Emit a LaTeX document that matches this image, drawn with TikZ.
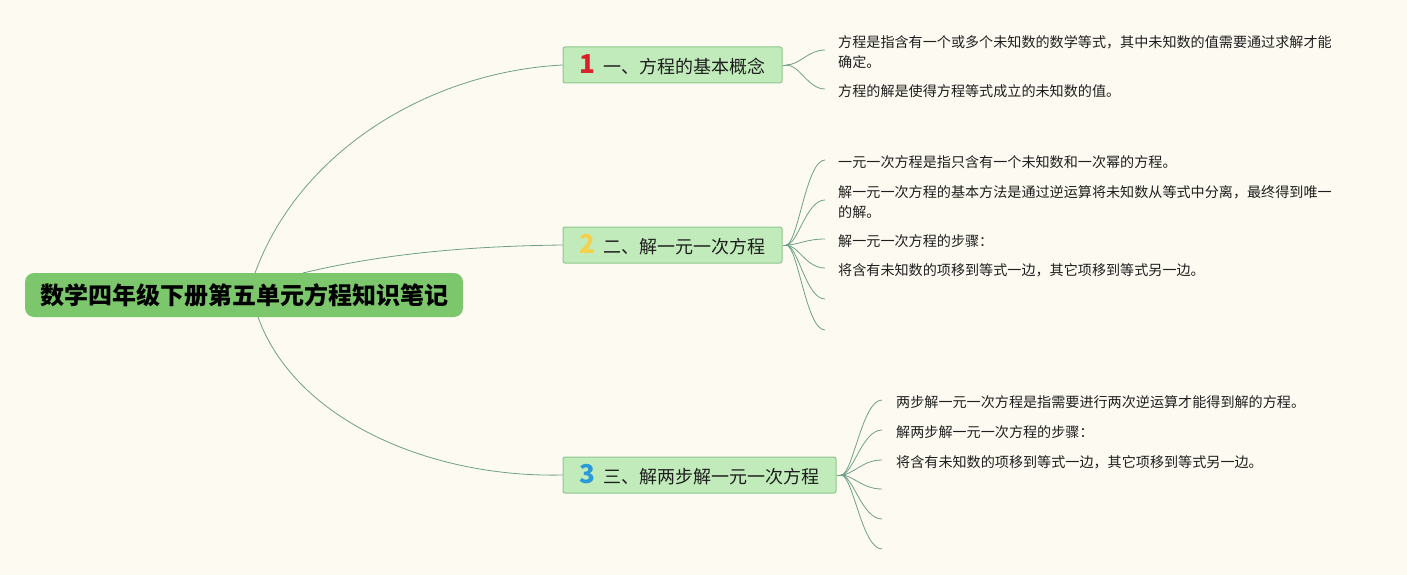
\documentclass[tikz,border=0pt]{standalone}
\usepackage{fontspec}
\setmainfont{Noto Sans CJK SC}
\definecolor{bg}{HTML}{FDFBF1}
\definecolor{rootfill}{HTML}{7CC76C}
\definecolor{brfill}{HTML}{C2EBBB}
\definecolor{brdraw}{HTML}{8CC78C}
\definecolor{linec}{HTML}{6E9F8A}
\definecolor{txt}{HTML}{1E1E1E}
\definecolor{nred}{HTML}{D8232D}
\definecolor{nyel}{HTML}{F4D14C}
\definecolor{nblu}{HTML}{2A9AD8}
\tikzset{
  rootbox/.style={fill=rootfill, rounded corners=9pt, minimum width=438pt, minimum height=44pt, inner sep=0pt,
    font=\fontsize{24}{28}\selectfont\bfseries, text=black},
  brbox/.style={fill=brfill, draw=brdraw, line width=1pt, rounded corners=2pt, minimum height=36pt, inner sep=0pt,
    font=\fontsize{18}{22}\selectfont, text=txt},
  leaf/.style={anchor=west, inner sep=0pt, align=left, font=\fontsize{14.1}{20}\selectfont, text=txt},
  conn/.style={draw=linec, line width=0.8pt},
  sconn/.style={draw=linec, line width=0.8pt}
}
\begin{document}
\begin{tikzpicture}[x=1pt,y=-1pt]
\fill[bg] (0,0) rectangle (1407,575);
\useasboundingbox (0,0) rectangle (1407,575);

% root
\node[rootbox] (root) at (244,295) {数学四年级下册第五单元方程知识笔记};

% branches
\node[brbox, minimum width=219pt] (b1) at (672.5,65) {{\color{nred}\fontsize{26}{26}\selectfont\bfseries 1}\hspace{8pt}一、方程的基本概念};
\node[brbox, minimum width=219pt] (b2) at (672.5,245) {{\color{nyel}\fontsize{26}{26}\selectfont\bfseries 2}\hspace{8pt}二、解一元一次方程};
\node[brbox, minimum width=273pt] (b3) at (699.5,475) {{\color{nblu}\fontsize{26}{26}\selectfont\bfseries 3}\hspace{8pt}三、解两步解一元一次方程};

% root connectors
\coordinate (r1) at (255,273);
\coordinate (r2) at (303,273);
\coordinate (r3) at (258,317);
\draw[conn] (r1) .. controls (300,150) and (430,72) .. (b1.west);
\draw[conn] (r2) .. controls (390,252) and (480,246) .. (b2.west);
\draw[conn] (r3) .. controls (295,420) and (430,478) .. (b3.west);

% branch 1 leaves
\coordinate (o1) at (786,65);
\draw[conn] (b1.east) -- (o1);
\coordinate (e11) at (825,50);
\coordinate (e12) at (825,89);
\node[leaf] (t11) at (838,52) {方程是指含有一个或多个未知数的数学等式，其中未知数的值需要通过求解才能\\确定。};
\node[leaf] (t12) at (838,91) {方程的解是使得方程等式成立的未知数的值。};
\foreach \e in {e11,e12} \draw[sconn] (o1) .. controls (800,65) and (808,65 |- \e) .. (\e);

% branch 2 leaves
\coordinate (o2) at (786,245);
\draw[conn] (b2.east) -- (o2);
\coordinate (e21) at (825,160);
\coordinate (e22) at (825,200);
\coordinate (e23) at (825,239);
\coordinate (e24) at (825,268);
\coordinate (e25) at (825,299);
\coordinate (e26) at (825,330);
\node[leaf] (t21) at (838,162) {一元一次方程是指只含有一个未知数和一次幂的方程。};
\node[leaf] (t22) at (838,202) {解一元一次方程的基本方法是通过逆运算将未知数从等式中分离，最终得到唯一\\的解。};
\node[leaf] (t23) at (838,241) {解一元一次方程的步骤：};
\node[leaf] (t24) at (838,270) {将含有未知数的项移到等式一边，其它项移到等式另一边。};
\foreach \e in {e21,e22,e23,e24,e25,e26} \draw[sconn] (o2) .. controls (798,245) and (806,245 |- \e) .. (\e);

% branch 3 leaves
\coordinate (o3) at (841,475);
\draw[conn] (b3.east) -- (o3);
\coordinate (e31) at (882,400);
\coordinate (e32) at (882,430);
\coordinate (e33) at (882,460);
\coordinate (e34) at (882,489);
\coordinate (e35) at (882,519);
\coordinate (e36) at (882,549);
\node[leaf] (t31) at (896,402) {两步解一元一次方程是指需要进行两次逆运算才能得到解的方程。};
\node[leaf] (t32) at (896,432) {解两步解一元一次方程的步骤：};
\node[leaf] (t33) at (896,462) {将含有未知数的项移到等式一边，其它项移到等式另一边。};
\foreach \e in {e31,e32,e33,e34,e35,e36} \draw[sconn] (o3) .. controls (853,475) and (862,475 |- \e) .. (\e);
\end{tikzpicture}
\end{document}
